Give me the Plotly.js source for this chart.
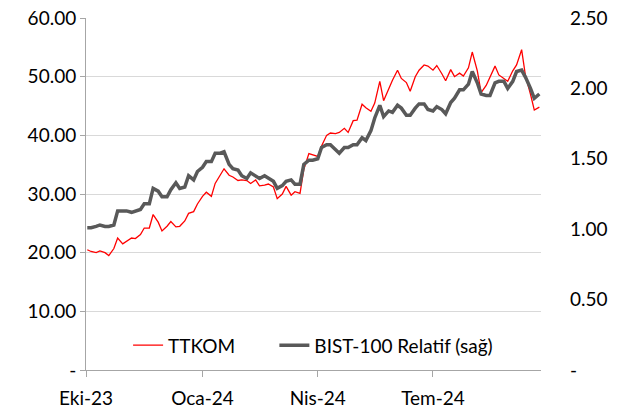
<!DOCTYPE html>
<html>
<head>
<meta charset="utf-8">
<script src="https://cdn.plot.ly/plotly-3.0.1.min.js"></script>
<style>
  html, body { margin: 0; padding: 0; background: #fff; }
  #chart { width: 619px; height: 412px; }
</style>
</head>
<body>
<div id="chart"></div>
<script>
// twice-weekly readings (Mon / Thu), Oct 2023 - Sep 2024
const dates = [
  '2023-10-02', '2023-10-05', '2023-10-09', '2023-10-12', '2023-10-16', '2023-10-19',
  '2023-10-23', '2023-10-26', '2023-10-30', '2023-11-02', '2023-11-06', '2023-11-09',
  '2023-11-13', '2023-11-16', '2023-11-20', '2023-11-23', '2023-11-27', '2023-11-30',
  '2023-12-04', '2023-12-07', '2023-12-11', '2023-12-14', '2023-12-18', '2023-12-21',
  '2023-12-25', '2023-12-28', '2024-01-01', '2024-01-04', '2024-01-08', '2024-01-11',
  '2024-01-15', '2024-01-18', '2024-01-22', '2024-01-25', '2024-01-29', '2024-02-01',
  '2024-02-05', '2024-02-08', '2024-02-12', '2024-02-15', '2024-02-19', '2024-02-22',
  '2024-02-26', '2024-02-29', '2024-03-04', '2024-03-07', '2024-03-11', '2024-03-14',
  '2024-03-18', '2024-03-21', '2024-03-25', '2024-03-28', '2024-04-01', '2024-04-04',
  '2024-04-08', '2024-04-11', '2024-04-15', '2024-04-18', '2024-04-22', '2024-04-25',
  '2024-04-29', '2024-05-02', '2024-05-06', '2024-05-09', '2024-05-13', '2024-05-16',
  '2024-05-20', '2024-05-23', '2024-05-27', '2024-05-30', '2024-06-03', '2024-06-06',
  '2024-06-10', '2024-06-13', '2024-06-17', '2024-06-20', '2024-06-24', '2024-06-27',
  '2024-07-01', '2024-07-04', '2024-07-08', '2024-07-11', '2024-07-15', '2024-07-18',
  '2024-07-22', '2024-07-25', '2024-07-29', '2024-08-01', '2024-08-05', '2024-08-08',
  '2024-08-12', '2024-08-15', '2024-08-19', '2024-08-22', '2024-08-26', '2024-08-29',
  '2024-09-02', '2024-09-05', '2024-09-09', '2024-09-12', '2024-09-16', '2024-09-19',
  '2024-09-23'
];

// TTKOM price (left axis)
const ttkom = [
  20.5, 20.2, 20.0, 20.3, 20.0, 19.5, 20.7, 22.5, 21.5, 21.9, 22.5, 22.4,
  23.1, 24.2, 24.2, 26.5, 25.2, 23.7, 24.5, 25.3, 24.4, 24.5, 25.4, 26.7,
  27.0, 28.3, 29.6, 30.3, 29.6, 31.8, 33.2, 34.3, 33.2, 32.9, 32.3, 32.4,
  32.3, 31.8, 32.4, 31.4, 31.5, 31.7, 31.2, 29.2, 30.0, 31.3, 29.8, 30.4,
  30.1, 34.2, 36.9, 36.7, 36.4, 38.2, 40.0, 40.4, 40.3, 40.5, 41.2, 40.5,
  42.5, 42.6, 45.3, 44.7, 44.1, 45.5, 49.2, 45.9, 48.0, 49.4, 51.1, 49.7,
  49.0, 47.5, 50.0, 51.1, 52.0, 51.8, 51.1, 51.9, 50.5, 49.3, 51.2, 50.0,
  50.6, 50.1, 51.5, 54.2, 51.0, 47.3, 48.5, 50.0, 51.8, 50.3, 49.6, 49.2,
  51.0, 52.0, 54.6, 50.2, 47.0, 44.3, 44.8
];

// BIST-100 relative performance (right axis)
const bistRel = [
  1.01, 1.01, 1.02, 1.03, 1.02, 1.02, 1.03, 1.13, 1.13, 1.13, 1.12, 1.13,
  1.14, 1.18, 1.18, 1.29, 1.27, 1.23, 1.23, 1.28, 1.33, 1.29, 1.30, 1.38,
  1.35, 1.41, 1.44, 1.48, 1.48, 1.54, 1.54, 1.55, 1.46, 1.43, 1.42, 1.38,
  1.36, 1.40, 1.38, 1.36, 1.38, 1.36, 1.34, 1.29, 1.31, 1.34, 1.35, 1.32,
  1.32, 1.46, 1.49, 1.49, 1.50, 1.58, 1.60, 1.60, 1.57, 1.54, 1.58, 1.58,
  1.60, 1.60, 1.65, 1.63, 1.70, 1.79, 1.88, 1.80, 1.84, 1.83, 1.88, 1.86,
  1.81, 1.81, 1.86, 1.89, 1.89, 1.85, 1.84, 1.87, 1.85, 1.82, 1.90, 1.93,
  1.99, 1.99, 2.03, 2.12, 2.04, 1.96, 1.95, 1.95, 2.04, 2.05, 2.05, 2.00,
  2.05, 2.12, 2.13, 2.08, 2.00, 1.93, 1.96
];

const leftTicks = [0, 10, 20, 30, 40, 50, 60];
const leftLabels = ['-', '10.00', '20.00', '30.00', '40.00', '50.00', '60.00'];
const rightTicks = [0, 0.5, 1, 1.5, 2, 2.5];
const rightLabels = ['-', '0.50', '1.00', '1.50', '2.00', '2.50'];
const xTicks = ['2023-10-01', '2024-01-01', '2024-04-01', '2024-07-01'];
const xLabels = ['Eki-23', 'Oca-24', 'Nis-24', 'Tem-24'];

const font = { family: 'Lato, "Open Sans", sans-serif', size: 19, color: '#000' };

const data = [
  {
    x: dates,
    y: ttkom,
    name: 'TTKOM',
    type: 'scatter',
    mode: 'lines',
    legend: 'legend',
    line: { color: '#ff0000', width: 1.3 }
  },
  {
    x: dates,
    y: bistRel,
    name: 'BIST-100 Relatif (sağ)',
    type: 'scatter',
    mode: 'lines',
    yaxis: 'y2',
    legend: 'legend2',
    line: { color: '#595959', width: 3.5 }
  }
];

const legendBase = {
  orientation: 'h',
  y: 0.07,
  yanchor: 'middle',
  bgcolor: 'rgba(0,0,0,0)',
  font: font
};

const layout = {
  width: 619,
  height: 412,
  margin: { l: 86, r: 78, t: 18, b: 42 },
  paper_bgcolor: '#fff',
  plot_bgcolor: '#fff',
  font: font,
  showlegend: true,
  legend: Object.assign({ x: 0.0925 }, legendBase),
  legend2: Object.assign({ x: 0.414 }, legendBase),
  xaxis: {
    type: 'date',
    range: ['2023-10-01', '2024-09-24 07:00'],
    tickvals: xTicks,
    ticktext: xLabels,
    showgrid: false,
    showline: true,
    linecolor: '#a6a6a6',
    linewidth: 1,
    ticks: 'outside',
    ticklen: 6,
    tickcolor: '#a6a6a6',
    ticklabelstandoff: 5,
    zeroline: false,
    tickfont: font
  },
  yaxis: {
    range: [0, 60],
    tickvals: leftTicks,
    ticktext: leftLabels,
    showgrid: true,
    gridcolor: '#d9d9d9',
    gridwidth: 1,
    showline: true,
    linecolor: '#a6a6a6',
    ticks: 'outside',
    ticklen: 5,
    tickcolor: '#a6a6a6',
    zeroline: false,
    tickfont: font
  },
  yaxis2: {
    overlaying: 'y',
    side: 'right',
    range: [0, 2.5],
    tickvals: rightTicks,
    ticktext: rightLabels,
    showgrid: false,
    showline: false,
    zeroline: false,
    ticks: '',
    ticklabelstandoff: 28,
    tickfont: font
  }
};

Plotly.newPlot('chart', data, layout, { staticPlot: true });
</script>
</body>
</html>
